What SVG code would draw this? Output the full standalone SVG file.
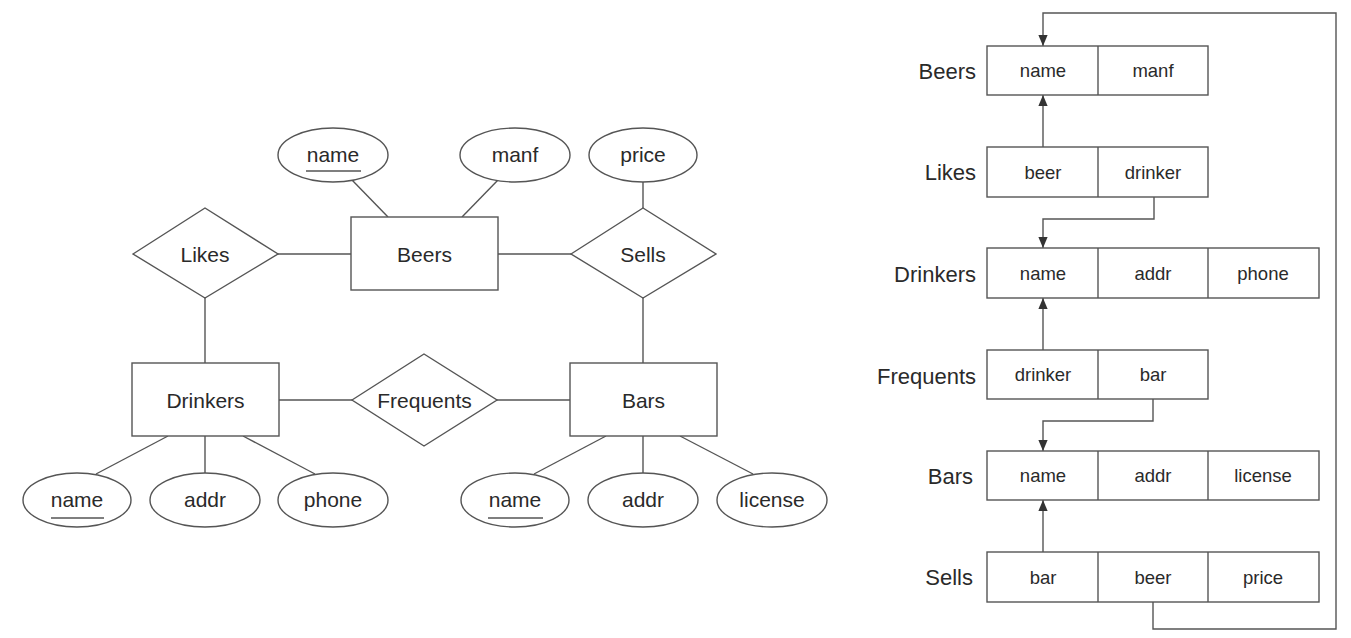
<svg xmlns="http://www.w3.org/2000/svg" width="1351" height="638" viewBox="0 0 1351 638">
<style>
.s{fill:#fff;stroke:#555;stroke-width:1.4}
.l{fill:none;stroke:#555;stroke-width:1.4}
.t{font-family:"Liberation Sans",Arial,sans-serif;font-size:21px;fill:#2a2a2a;text-anchor:middle}
.c{font-family:"Liberation Sans",Arial,sans-serif;font-size:18.5px;fill:#2a2a2a;text-anchor:middle}
.r{font-family:"Liberation Sans",Arial,sans-serif;font-size:22px;fill:#2a2a2a;text-anchor:end}
.u{stroke:#555;stroke-width:1.4}
</style>
<defs>
<marker id="ah" viewBox="0 0 10 10" refX="10" refY="5" markerWidth="11" markerHeight="11" markerUnits="userSpaceOnUse" orient="auto">
<path d="M0,0.8 L10,5 L0,9.2 Z" fill="#333"/>
</marker>
</defs>
<rect width="1351" height="638" fill="#fff"/>

<g id="er-connectors">
<line class="l" x1="352" y1="180" x2="388" y2="217"/>
<line class="l" x1="498" y1="180" x2="462" y2="217"/>
<line class="l" x1="643" y1="182" x2="643" y2="208"/>
<line class="l" x1="278" y1="254" x2="351" y2="254"/>
<line class="l" x1="498" y1="254" x2="571" y2="254"/>
<line class="l" x1="205" y1="298" x2="205" y2="363"/>
<line class="l" x1="643" y1="298" x2="643" y2="363"/>
<line class="l" x1="279" y1="400" x2="352" y2="400"/>
<line class="l" x1="497" y1="400" x2="570" y2="400"/>
<line class="l" x1="168" y1="436" x2="96" y2="474"/>
<line class="l" x1="205" y1="436" x2="205" y2="473"/>
<line class="l" x1="243" y1="436" x2="315" y2="474"/>
<line class="l" x1="606" y1="436" x2="534" y2="474"/>
<line class="l" x1="643" y1="436" x2="643" y2="473"/>
<line class="l" x1="680" y1="436" x2="753" y2="474"/>
</g>

<g id="beers"><rect class="s" x="351" y="217" width="147" height="73"/><text class="t" x="424.5" y="261.5">Beers</text></g>
<g id="drinkers"><rect class="s" x="132" y="363" width="147" height="73"/><text class="t" x="205.5" y="407.5">Drinkers</text></g>
<g id="bars"><rect class="s" x="570" y="363" width="147" height="73"/><text class="t" x="643.5" y="407.5">Bars</text></g>

<g id="likes"><polygon class="s" points="133,254 205,208 278,254 205,298"/><text class="t" x="205" y="261.5">Likes</text></g>
<g id="sells"><polygon class="s" points="571,254 643,208 716,254 643,298"/><text class="t" x="643" y="261.5">Sells</text></g>
<g id="frequents"><polygon class="s" points="352,400 424,354 497,400 424,446"/><text class="t" x="424.5" y="407.5">Frequents</text></g>

<g id="beers-name"><ellipse class="s" cx="333" cy="155" rx="55" ry="27"/><text class="t" x="333" y="162">name</text><line class="u" x1="306" y1="171" x2="361" y2="171"/></g>
<g id="beers-manf"><ellipse class="s" cx="515" cy="155" rx="55" ry="27"/><text class="t" x="515" y="162">manf</text></g>
<g id="sells-price"><ellipse class="s" cx="643" cy="155" rx="54" ry="27"/><text class="t" x="643" y="162">price</text></g>

<g id="drinkers-name"><ellipse class="s" cx="77" cy="500" rx="54" ry="27"/><text class="t" x="77" y="507">name</text><line class="u" x1="51" y1="518" x2="104" y2="518"/></g>
<g id="drinkers-addr"><ellipse class="s" cx="205" cy="500" rx="55" ry="27"/><text class="t" x="205" y="507">addr</text></g>
<g id="drinkers-phone"><ellipse class="s" cx="333" cy="500" rx="55" ry="27"/><text class="t" x="333" y="507">phone</text></g>

<g id="bars-name"><ellipse class="s" cx="515" cy="500" rx="54" ry="27"/><text class="t" x="515" y="507">name</text><line class="u" x1="488" y1="518" x2="543" y2="518"/></g>
<g id="bars-addr"><ellipse class="s" cx="643" cy="500" rx="55" ry="27"/><text class="t" x="643" y="507">addr</text></g>
<g id="bars-license"><ellipse class="s" cx="772" cy="500" rx="55" ry="27"/><text class="t" x="772" y="507">license</text></g>

<g id="rel-connectors">
<path class="l" d="M1153,602 V629 H1336 V13 H1043 V46" marker-end="url(#ah)"/>
<path class="l" d="M1043,147 V95" marker-end="url(#ah)"/>
<path class="l" d="M1154,197 V219 H1043 V248" marker-end="url(#ah)"/>
<path class="l" d="M1043,350 V298" marker-end="url(#ah)"/>
<path class="l" d="M1153,399 V421 H1043 V451" marker-end="url(#ah)"/>
<path class="l" d="M1043,552 V500" marker-end="url(#ah)"/>
</g>

<g id="t-beers">
<text class="r" x="976" y="79">Beers</text>
<rect class="s" x="987" y="46" width="221" height="49"/><line class="l" x1="1098" y1="46" x2="1098" y2="95"/>
<text class="c" x="1043" y="77">name</text><text class="c" x="1153" y="77">manf</text>
</g>
<g id="t-likes">
<text class="r" x="976" y="180">Likes</text>
<rect class="s" x="987" y="147" width="221" height="50"/><line class="l" x1="1098" y1="147" x2="1098" y2="197"/>
<text class="c" x="1043" y="179">beer</text><text class="c" x="1153" y="179">drinker</text>
</g>
<g id="t-drinkers">
<text class="r" x="976" y="282">Drinkers</text>
<rect class="s" x="987" y="248" width="332" height="50"/><line class="l" x1="1098" y1="248" x2="1098" y2="298"/><line class="l" x1="1208" y1="248" x2="1208" y2="298"/>
<text class="c" x="1043" y="280">name</text><text class="c" x="1153" y="280">addr</text><text class="c" x="1263" y="280">phone</text>
</g>
<g id="t-frequents">
<text class="r" x="976" y="384">Frequents</text>
<rect class="s" x="987" y="350" width="221" height="49"/><line class="l" x1="1098" y1="350" x2="1098" y2="399"/>
<text class="c" x="1043" y="381">drinker</text><text class="c" x="1153" y="381">bar</text>
</g>
<g id="t-bars">
<text class="r" x="973" y="484">Bars</text>
<rect class="s" x="987" y="451" width="332" height="49"/><line class="l" x1="1098" y1="451" x2="1098" y2="500"/><line class="l" x1="1208" y1="451" x2="1208" y2="500"/>
<text class="c" x="1043" y="482">name</text><text class="c" x="1153" y="482">addr</text><text class="c" x="1263" y="482">license</text>
</g>
<g id="t-sells">
<text class="r" x="973" y="585">Sells</text>
<rect class="s" x="987" y="552" width="332" height="50"/><line class="l" x1="1098" y1="552" x2="1098" y2="602"/><line class="l" x1="1208" y1="552" x2="1208" y2="602"/>
<text class="c" x="1043" y="584">bar</text><text class="c" x="1153" y="584">beer</text><text class="c" x="1263" y="584">price</text>
</g>
</svg>
